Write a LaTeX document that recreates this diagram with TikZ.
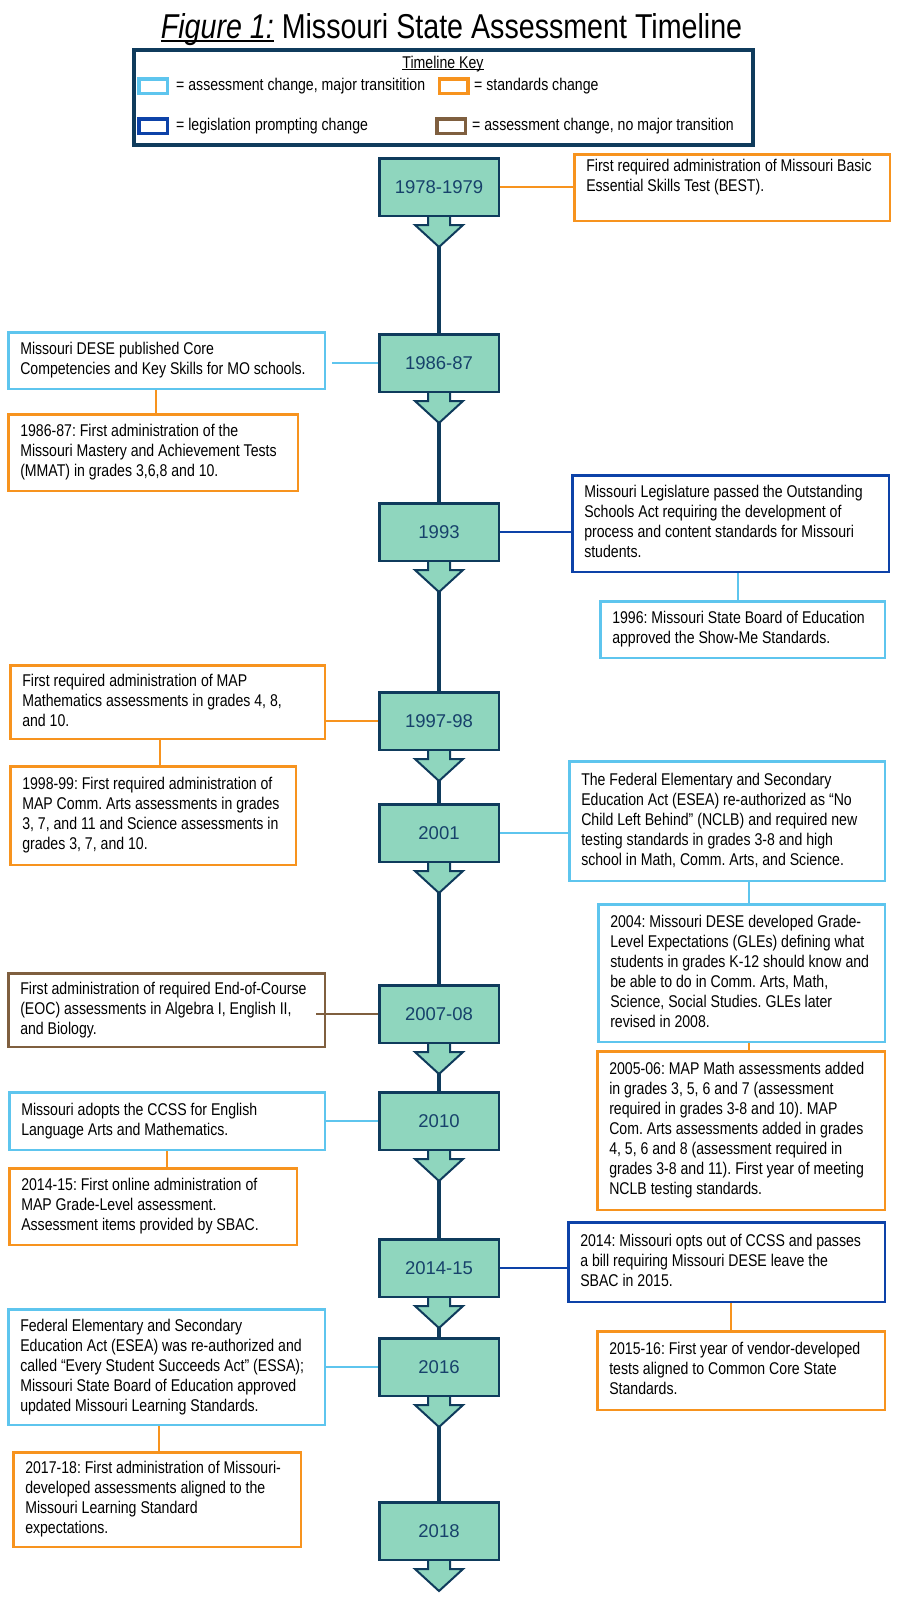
\documentclass[tikz,border=0pt]{standalone}
\usepackage{fontspec}
\setmainfont{Liberation Sans}[FakeStretch=0.83]
\newfontfamily\yearfont{Liberation Sans}
\usetikzlibrary{backgrounds}

\definecolor{navyline}{HTML}{0F3B5C}
\definecolor{mintfill}{HTML}{8FD6BE}
\definecolor{yeartext}{HTML}{17426B}
\definecolor{skyline}{HTML}{5EC5EE}
\definecolor{orangeline}{HTML}{F7931E}
\definecolor{deepblue}{HTML}{0D42A8}
\definecolor{brownline}{HTML}{7F5F3F}

\newsavebox\lowbox
\newcommand\lowline[3]{\sbox\lowbox{#3}\rlap{\rule[#1]{\wd\lowbox}{#2}}\usebox\lowbox}
\newcommand\eventlines[2]{\makebox[#1][l]{\begin{tabular}{@{}l@{}}#2\end{tabular}}}

\begin{document}
\frenchspacing
\begin{tikzpicture}[x=1pt,y=-1pt,
  yearbox/.style={draw=navyline, fill=mintfill, line width=2.5pt, minimum width=119.5pt,
    minimum height=57.5pt, text=yeartext, anchor=north,
    font=\yearfont\fontsize{18.5}{22}\selectfont},
  yeararrow/.style={draw=navyline, fill=mintfill, line width=2pt},
  timeline/.style={draw=navyline, line width=3.5pt},
  event/.style={anchor=north west, fill=white, line width=2.5pt, inner xsep=12pt,
    font=\fontsize{17}{20}\selectfont},
  link/.style={line width=2pt},
  swatch/.style={draw=#1, line width=3.5pt, minimum width=28.5pt, minimum height=14.5pt, inner sep=0pt},
  keytext/.style={anchor=base west, inner sep=0pt, font=\fontsize{17}{20}\selectfont}]
  \useasboundingbox (0,0) rectangle (900,1603);

  % title and key
  \node[anchor=base, inner sep=0pt, font=\fontsize{34.5}{40}\selectfont] (title) at (451.5,39)
    {\lowline{-2.7pt}{2pt}{\itshape Figure 1:} Missouri State Assessment Timeline};
  \node[draw=navyline, line width=4pt, minimum width=619pt, minimum height=95pt,
    anchor=north west, inner sep=0pt] (key) at (132,48) {};
  \node[keytext, anchor=base] (keytitle) at (443,68) {\lowline{-2pt}{1pt}{Timeline Key}};
  \node[swatch=skyline] (swsky) at (153,86) {};
  \node[keytext] (txsky) at (176,90) {= assessment change, major transitition};
  \node[swatch=orangeline] (sworange) at (453.5,86) {};
  \node[keytext] (txorange) at (474,90) {= standards change};
  \node[swatch=deepblue] (swdeep) at (153,126) {};
  \node[keytext] (txdeep) at (176,130) {= legislation prompting change};
  \node[swatch=brownline] (swbrown) at (451,126) {};
  \node[keytext] (txbrown) at (472,130) {= assessment change, no major transition};

  % years
  \node[yearbox] (y1978) at (439,157) {1978-1979};
  \node[yearbox] (y1986) at (439,333) {1986-87};
  \node[yearbox] (y1993) at (439,502) {1993};
  \node[yearbox] (y1997) at (439,691) {1997-98};
  \node[yearbox] (y2001) at (439,803) {2001};
  \node[yearbox] (y2007) at (439,984) {2007-08};
  \node[yearbox] (y2010) at (439,1091) {2010};
  \node[yearbox] (y2014) at (439,1238) {2014-15};
  \node[yearbox] (y2016) at (439,1337) {2016};
  \node[yearbox] (y2018) at (439,1501) {2018};
  \foreach \yr in {y1978,y1986,y1993,y1997,y2001,y2007,y2010,y2014,y2016,y2018}
    \draw[yeararrow] ([xshift=-11pt]\yr.south) -- ++(0,8) -- ++(-13,0) -- ([yshift=-30pt]\yr.south)
      -- ++(24,-22) -- ++(-13,0) -- ++(0,-8);
  \begin{scope}[on background layer]
    \draw[timeline] (y1978.south) -- (y2018.north);
  \end{scope}

  % right column
  \node[event, draw=orangeline, minimum height=65.5pt] (best) at (573,153)
    {\eventlines{291.5pt}{First required administration of Missouri Basic\\Essential Skills Test (BEST).\\{}}};
  \node[event, draw=deepblue, minimum height=96.5pt] (osa) at (571,474)
    {\eventlines{292.5pt}{Missouri Legislature passed the Outstanding\\Schools Act requiring the development of\\process and content standards for Missouri\\students.}};
  \node[event, draw=skyline, minimum height=56.5pt] (showme) at (599,600)
    {\eventlines{260.5pt}{1996: Missouri State Board of Education\\approved the Show-Me Standards.}};
  \node[event, draw=skyline, minimum height=119.5pt] (nclb) at (568,760)
    {\eventlines{291.5pt}{The Federal Elementary and Secondary\\Education Act (ESEA) re-authorized as “No\\Child Left Behind” (NCLB) and required new\\testing standards in grades 3-8 and high\\school in Math, Comm. Arts, and Science.}};
  \node[event, draw=skyline, minimum height=137.5pt] (gle) at (597,903)
    {\eventlines{262.5pt}{2004: Missouri DESE developed Grade-\\Level Expectations (GLEs) defining what\\students in grades K-12 should know and\\be able to do in Comm. Arts, Math,\\Science, Social Studies. GLEs later\\revised in 2008.}};
  \node[event, draw=orangeline, minimum height=158.5pt] (mathadd) at (596,1050)
    {\eventlines{263.5pt}{2005-06: MAP Math assessments added\\in grades 3, 5, 6 and 7 (assessment\\required in grades 3-8 and 10). MAP\\Com. Arts assessments added in grades\\4, 5, 6 and 8 (assessment required in\\grades 3-8 and 11). First year of meeting\\NCLB testing standards.}};
  \node[event, draw=deepblue, minimum height=79.5pt] (optout) at (567,1221)
    {\eventlines{292.5pt}{2014: Missouri opts out of CCSS and passes\\a bill requiring Missouri DESE leave the\\SBAC in 2015.}};
  \node[event, draw=orangeline, minimum height=78.5pt] (vendor) at (596,1330)
    {\eventlines{263.5pt}{2015-16: First year of vendor-developed\\tests aligned to Common Core State\\Standards.}};

  % left column
  \node[event, draw=skyline, minimum height=56.5pt] (core) at (7,331)
    {\eventlines{292.5pt}{Missouri DESE published Core\\Competencies and Key Skills for MO schools.}};
  \node[event, draw=orangeline, minimum height=76.5pt] (mmat) at (7,413)
    {\eventlines{265.5pt}{1986-87: First administration of the\\Missouri Mastery and Achievement Tests\\(MMAT) in grades 3,6,8 and 10.}};
  \node[event, draw=orangeline, minimum height=73.5pt] (mathmap) at (9,664)
    {\eventlines{290.5pt}{First required administration of MAP\\Mathematics assessments in grades 4, 8,\\and 10.}};
  \node[event, draw=orangeline, minimum height=98.5pt] (commarts) at (9,765)
    {\eventlines{261.5pt}{1998-99: First required administration of\\MAP Comm. Arts assessments in grades\\3, 7, and 11 and Science assessments in\\grades 3, 7, and 10.}};
  \node[event, draw=brownline, minimum height=73.5pt] (eoc) at (7,972)
    {\eventlines{292.5pt}{First administration of required End-of-Course\\(EOC) assessments in Algebra I, English II,\\and Biology.}};
  \node[event, draw=skyline, minimum height=57.5pt] (ccss) at (8,1091)
    {\eventlines{291.5pt}{Missouri adopts the CCSS for English\\Language Arts and Mathematics.}};
  \node[event, draw=orangeline, minimum height=76.5pt] (online) at (8,1167)
    {\eventlines{263.5pt}{2014-15: First online administration of\\MAP Grade-Level assessment.\\Assessment items provided by SBAC.}};
  \node[event, draw=skyline, minimum height=115.5pt] (essa) at (7,1308)
    {\eventlines{292.5pt}{Federal Elementary and Secondary\\Education Act (ESEA) was re-authorized and\\called “Every Student Succeeds Act” (ESSA);\\Missouri State Board of Education approved\\updated Missouri Learning Standards.}};
  \node[event, draw=orangeline, minimum height=94.5pt] (mlsdev) at (12,1451)
    {\eventlines{263.5pt}{2017-18: First administration of Missouri-\\developed assessments aligned to the\\Missouri Learning Standard\\expectations.}};

  % connectors
  \draw[link, orangeline] (y1978.east) -- (y1978.east -| best.west);
  \draw[link, skyline, shorten <=6pt] (core.east |- y1986.west) -- (y1986.west);
  \draw[link, deepblue] (y1993.east) -- (y1993.east -| osa.west);
  \draw[link, orangeline] (mathmap.east |- y1997.west) -- (y1997.west);
  \draw[link, skyline] (y2001.east) -- (y2001.east -| nclb.west);
  \draw[link, brownline, shorten <=-10pt] (eoc.east |- y2007.west) -- (y2007.west);
  \draw[link, skyline] (ccss.east |- y2010.west) -- (y2010.west);
  \draw[link, deepblue] (y2014.east) -- (y2014.east -| optout.west);
  \draw[link, skyline] (essa.east |- y2016.west) -- (y2016.west);
  \draw[link, orangeline] ([xshift=3pt]mmat.north) -- ([xshift=3pt]mmat.north |- core.south);
  \draw[link, skyline] ([xshift=-4.5pt]showme.north) -- ([xshift=-4.5pt]showme.north |- osa.south);
  \draw[link, orangeline] ([xshift=7pt]commarts.north) -- ([xshift=7pt]commarts.north |- mathmap.south);
  \draw[link, skyline] ([xshift=7.5pt]gle.north) -- ([xshift=7.5pt]gle.north |- nclb.south);
  \draw[link, orangeline] ([xshift=8pt]mathadd.north) -- ([xshift=8pt]mathadd.north |- gle.south);
  \draw[link, orangeline] ([xshift=-10pt]vendor.north) -- ([xshift=-10pt]vendor.north |- optout.south);
  \draw[link, orangeline] (online.north -| ccss.south) -- (ccss.south);
  \draw[link, orangeline] ([xshift=2pt]mlsdev.north) -- ([xshift=2pt]mlsdev.north |- essa.south);
\end{tikzpicture}
\end{document}
